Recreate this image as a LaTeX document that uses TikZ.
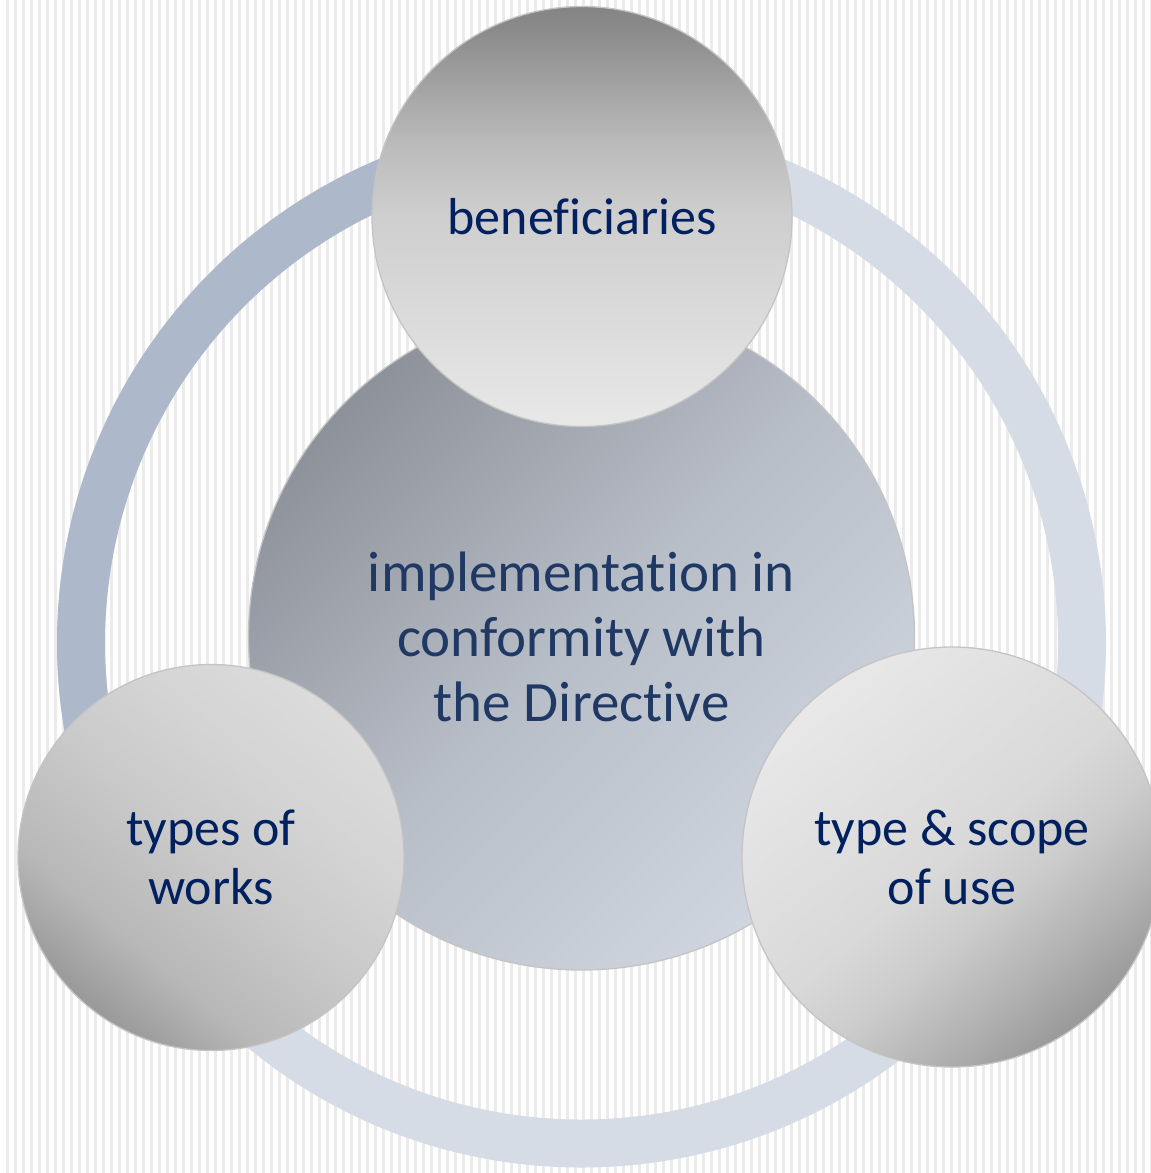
\documentclass[tikz,border=0pt]{standalone}
\usepackage{fontspec}
\setmainfont{Carlito}[Ligatures=NoCommon]
\definecolor{stripe}{HTML}{EBEBEB}
\definecolor{ringlight}{HTML}{D6DCE6}
\definecolor{ringdark}{HTML}{ADB9CB}
\definecolor{navy}{HTML}{002060}
\definecolor{ctext}{HTML}{1F3864}
\definecolor{edge}{HTML}{C4C4C4}
\definecolor{ctrtop}{HTML}{8C919A}
\definecolor{ctrmid}{HTML}{B8BEC7}
\definecolor{ctrbot}{HTML}{D0D6DF}
\pgfdeclareverticalshading{benshade}{100bp}{%
  color(0bp)=(white!91!black); color(25bp)=(white!91!black);
  color(37.5bp)=(white!86!black); color(50bp)=(white!81!black);
  color(58bp)=(white!74!black); color(64bp)=(white!66!black);
  color(72.5bp)=(white!54!black); color(75bp)=(white!52!black);
  color(100bp)=(white!52!black)}
\pgfdeclareverticalshading{scopeshade}{100bp}{%
  color(0bp)=(white!60!black); color(25bp)=(white!60!black);
  color(33bp)=(white!70!black); color(42bp)=(white!80!black);
  color(50bp)=(white!85!black); color(75bp)=(white!91!black);
  color(100bp)=(white!91!black)}
\pgfdeclareverticalshading{worksshade}{100bp}{%
  color(0bp)=(white!60!black); color(25bp)=(white!60!black);
  color(35bp)=(white!72!black); color(50bp)=(white!79!black);
  color(62bp)=(white!83!black); color(75bp)=(white!86!black);
  color(100bp)=(white!86!black)}
\tikzset{
  bubble/.style={circle, inner sep=0pt, draw=edge, line width=1.3pt, align=center,
    text=navy, font=\fontsize{52}{59}\selectfont},
}
\begin{document}
\begin{tikzpicture}[x=1pt,y=-1pt]
\useasboundingbox (0,0) rectangle (1151,1173);
\clip (0,0) rectangle (1151,1173);
\fill[white] (0,0) rectangle (1151,1173);
\foreach \i in {0,...,143} \fill[stripe] ({6+8*\i},0) rectangle ++(2.7,1173);
\coordinate (C) at (581.5,643);
\draw[ringlight, line width=48pt] (C) circle[radius=500.5];
\draw[ringdark, line width=48pt] ([shift={(-90:500.5)}]C) arc[start angle=-90, end angle=-210, radius=500.5];
\node[circle, inner sep=0pt, minimum size=666pt, draw=edge, line width=1.3pt,
  shade, top color=ctrtop, bottom color=ctrbot, middle color=ctrmid, shading angle=45,
  align=center, text=ctext, font=\fontsize{57}{65}\selectfont]
  (ctr) at (581.5,637) {implementa\kern0pt tion in\\conformity with\\the Direc\kern0pt tive};
\node[bubble, minimum size=420pt, shade, shading=benshade] (ben) at (582,216.5) {benef\kern0pt iciaries};
\node[bubble, minimum size=386pt, shade, shading=worksshade, shading angle=-40]
  (works) at (211,857.5) {types of\\works};
\node[bubble, minimum size=420pt, shade, shading=scopeshade, shading angle=40]
  (scope) at (952,857) {type \& scope\\of use};
\end{tikzpicture}
\end{document}
